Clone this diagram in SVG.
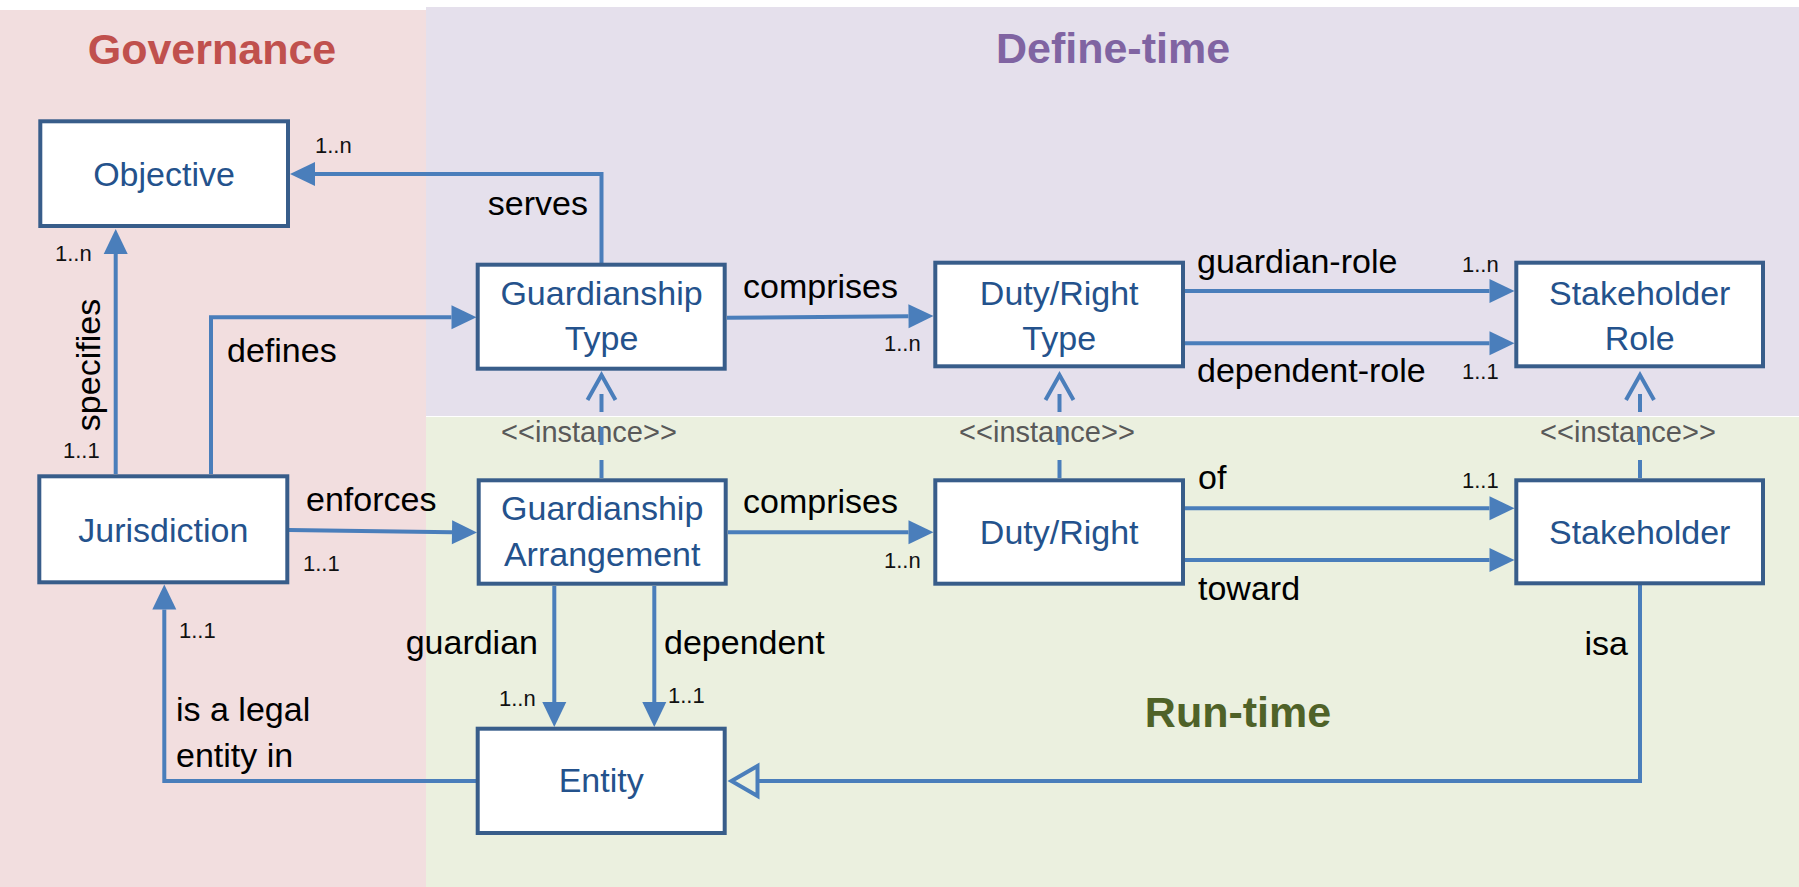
<svg xmlns="http://www.w3.org/2000/svg" width="1799" height="887" viewBox="0 0 1799 887">
  <style>
    .node rect { fill: #FFFFFF; stroke: #385D8A; stroke-width: 4; }
    .node text { font-family: "Liberation Sans", Arial, sans-serif; font-size: 34px; fill: #24528C; text-anchor: middle; }
    .title { font-family: "Liberation Sans", Arial, sans-serif; font-size: 43px; font-weight: bold; text-anchor: middle; }
    .lbl { font-family: "Liberation Sans", Arial, sans-serif; font-size: 34px; fill: #000000; }
    .mult { font-family: "Liberation Sans", Arial, sans-serif; font-size: 22px; fill: #111111; }
    .inst { font-family: "Liberation Sans", Arial, sans-serif; font-size: 29px; fill: #595959; text-anchor: middle; }
    .conn { fill: none; stroke: #4A7EBB; stroke-width: 4; }
    .dash { stroke-dasharray: 18 15; }
  </style>
  <defs>
    <marker id="arrow" markerUnits="userSpaceOnUse" markerWidth="30" markerHeight="30" refX="0" refY="0" viewBox="-2 -14 30 28" orient="auto" overflow="visible">
      <path d="M0,-12 L25,0 L0,12 Z" fill="#4A7EBB"/>
    </marker>
    <marker id="open" markerUnits="userSpaceOnUse" markerWidth="34" markerHeight="34" refX="0" refY="0" viewBox="-30 -17 34 34" orient="auto" overflow="visible">
      <path d="M-25,-14 L0,0 L-25,14" fill="none" stroke="#4A7EBB" stroke-width="4"/>
    </marker>
    <marker id="hollow" markerUnits="userSpaceOnUse" markerWidth="40" markerHeight="40" refX="0" refY="0" viewBox="-4 -20 36 40" orient="auto" overflow="visible">
      <path d="M0,-15 L26,0 L0,15 Z" fill="#EBF0DF" stroke="#4A7EBB" stroke-width="4"/>
    </marker>
  </defs>

  <!-- swimlane backgrounds -->
  <g id="lanes">
    <rect x="0" y="0" width="1799" height="887" fill="#FFFFFF"/>
    <rect x="0" y="10" width="426" height="877" fill="#F2DEDF"/>
    <rect x="426" y="7" width="1373" height="409" fill="#E5E0EC"/>
    <rect x="426" y="417" width="1373" height="470" fill="#EBF0DF"/>
    <text class="title" x="212" y="64" fill="#C0504D">Governance</text>
    <text class="title" x="1113" y="63" fill="#8064A2">Define-time</text>
    <text class="title" x="1238" y="727" fill="#4F6228">Run-time</text>
  </g>

  <!-- stereotype labels sit under the dashed instance lines -->
  <g id="instance-labels">
    <text class="inst" x="589" y="442">&lt;&lt;instance&gt;&gt;</text>
    <text class="inst" x="1047" y="442">&lt;&lt;instance&gt;&gt;</text>
    <text class="inst" x="1628" y="442">&lt;&lt;instance&gt;&gt;</text>
  </g>

  <!-- connectors -->
  <g id="connectors">
    <path class="conn" d="M601.5,263 V174 H315" marker-end="url(#arrow)"/>
    <path class="conn" d="M115.7,474 V254" marker-end="url(#arrow)"/>
    <path class="conn" d="M211,474 V317.3 H451.5" marker-end="url(#arrow)"/>
    <path class="conn" d="M727,317.8 L908.5,316.2" marker-end="url(#arrow)"/>
    <path class="conn" d="M1185,291 H1489.5" marker-end="url(#arrow)"/>
    <path class="conn" d="M1185,343.3 H1489.5" marker-end="url(#arrow)"/>
    <path class="conn" d="M289,530 L452,532.2" marker-end="url(#arrow)"/>
    <path class="conn" d="M728,532.3 H908.5" marker-end="url(#arrow)"/>
    <path class="conn" d="M1185,508.3 H1489.5" marker-end="url(#arrow)"/>
    <path class="conn" d="M1185,560 H1489.5" marker-end="url(#arrow)"/>
    <path class="conn" d="M554.3,586 V702" marker-end="url(#arrow)"/>
    <path class="conn" d="M654.3,586 V702" marker-end="url(#arrow)"/>
    <path class="conn" d="M476,781 H164.3 V609.5" marker-end="url(#arrow)"/>
    <path class="conn" d="M1640,585 V781 H757.5" marker-end="url(#hollow)"/>
    <path class="conn dash" d="M601.5,478 V375" marker-end="url(#open)"/>
    <path class="conn dash" d="M1059.5,478 V375" marker-end="url(#open)"/>
    <path class="conn dash" d="M1640,478 V375" marker-end="url(#open)"/>
  </g>

  <!-- connector labels and multiplicities -->
  <g id="labels">
    <text class="lbl" x="588" y="215" text-anchor="end">serves</text>
    <text class="lbl" x="227" y="362">defines</text>
    <text class="lbl" transform="translate(100,365) rotate(-90)" text-anchor="middle">specifies</text>
    <text class="lbl" x="743" y="298">comprises</text>
    <text class="lbl" x="1197" y="273">guardian-role</text>
    <text class="lbl" x="1197" y="382">dependent-role</text>
    <text class="lbl" x="306" y="511">enforces</text>
    <text class="lbl" x="743" y="513">comprises</text>
    <text class="lbl" x="1198" y="489">of</text>
    <text class="lbl" x="1198" y="600">toward</text>
    <text class="lbl" x="538" y="654" text-anchor="end">guardian</text>
    <text class="lbl" x="664" y="654">dependent</text>
    <text class="lbl" x="1628" y="655" text-anchor="end">isa</text>
    <text class="lbl" x="176" y="721">is a legal</text>
    <text class="lbl" x="176" y="767">entity in</text>

    <text class="mult" x="315" y="153">1..n</text>
    <text class="mult" x="55" y="261">1..n</text>
    <text class="mult" x="63" y="458">1..1</text>
    <text class="mult" x="884" y="351">1..n</text>
    <text class="mult" x="1462" y="272">1..n</text>
    <text class="mult" x="1462" y="379">1..1</text>
    <text class="mult" x="303" y="571">1..1</text>
    <text class="mult" x="884" y="568">1..n</text>
    <text class="mult" x="1462" y="488">1..1</text>
    <text class="mult" x="179" y="638">1..1</text>
    <text class="mult" x="499" y="706">1..n</text>
    <text class="mult" x="668" y="703">1..1</text>
  </g>

  <!-- nodes -->
  <g id="objective" class="node">
    <rect x="40.3" y="121.3" width="247.7" height="104.7"/>
    <text x="164" y="186">Objective</text>
  </g>
  <g id="guardianship-type" class="node">
    <rect x="477.7" y="264.7" width="247" height="104"/>
    <text x="601.5" y="305">Guardianship</text>
    <text x="601.5" y="350">Type</text>
  </g>
  <g id="duty-right-type" class="node">
    <rect x="935.3" y="262.7" width="247.7" height="103.6"/>
    <text x="1059.2" y="305">Duty/Right</text>
    <text x="1059.2" y="350">Type</text>
  </g>
  <g id="stakeholder-role" class="node">
    <rect x="1516.3" y="262.7" width="246.7" height="103.6"/>
    <text x="1639.7" y="305">Stakeholder</text>
    <text x="1639.7" y="350">Role</text>
  </g>
  <g id="jurisdiction" class="node">
    <rect x="39.3" y="476.3" width="248" height="106"/>
    <text x="163.3" y="542">Jurisdiction</text>
  </g>
  <g id="guardianship-arrangement" class="node">
    <rect x="478.7" y="480.3" width="247" height="103.4"/>
    <text x="602.2" y="520">Guardianship</text>
    <text x="602.2" y="566">Arrangement</text>
  </g>
  <g id="duty-right" class="node">
    <rect x="935.3" y="480.3" width="247.7" height="103.4"/>
    <text x="1059.2" y="544">Duty/Right</text>
  </g>
  <g id="stakeholder" class="node">
    <rect x="1516.3" y="480.3" width="246.7" height="103"/>
    <text x="1639.7" y="544">Stakeholder</text>
  </g>
  <g id="entity" class="node">
    <rect x="477.7" y="728.7" width="247" height="104.3"/>
    <text x="601.2" y="792">Entity</text>
  </g>
</svg>
